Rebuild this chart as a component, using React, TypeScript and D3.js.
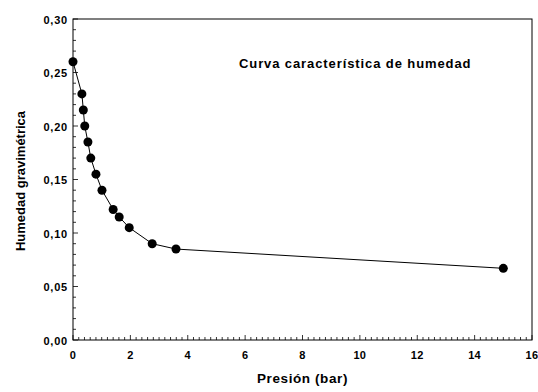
import { useEffect, useRef } from 'react';
import * as d3 from 'd3';

// Presión (bar) vs humedad gravimétrica
const presion = [0, 0.31, 0.36, 0.41, 0.52, 0.62, 0.8, 1.01, 1.4, 1.61, 1.96, 2.76, 3.59, 15];
const humedad = [0.26, 0.23, 0.215, 0.2, 0.185, 0.17, 0.155, 0.14, 0.122, 0.115, 0.105, 0.09, 0.085, 0.067];
const xTicks = [0, 2, 4, 6, 8, 10, 12, 14, 16];
const yTicks = [0, 0.05, 0.1, 0.15, 0.2, 0.25, 0.3];

const title = 'Curva característica de humedad';
const xLabel = 'Presión (bar)';
const yLabel = 'Humedad gravimétrica';

const W = 538;
const H = 392;

export default function App() {
  const ref = useRef<SVGSVGElement>(null);

  useEffect(() => {
    if (!ref.current) return;
    const svg = d3.select(ref.current);
    svg.selectAll('*').remove();

    const margin = { top: 19, right: 6, bottom: 52, left: 73 };
    const innerW = W - margin.left - margin.right;
    const innerH = H - margin.top - margin.bottom;
    const font = '"Liberation Sans", Arial, sans-serif';

    const g = svg.append('g').attr('transform', `translate(${margin.left},${margin.top})`);

    const x = d3.scaleLinear().domain([0, 16]).range([0, innerW]);
    const y = d3.scaleLinear().domain([0, 0.3]).range([innerH, 0]);

    // frame
    g.append('rect')
      .attr('width', innerW)
      .attr('height', innerH)
      .attr('fill', 'none')
      .attr('stroke', '#000')
      .attr('stroke-width', 1);

    // minor ticks (inside)
    const xMinor = d3.range(0, 16.001, 0.2);
    g.append('g')
      .selectAll('line')
      .data(xMinor)
      .join('line')
      .attr('x1', (d) => x(d))
      .attr('x2', (d) => x(d))
      .attr('y1', innerH)
      .attr('y2', (d) => innerH - (Math.abs(d / 2 - Math.round(d / 2)) < 1e-6 ? 5 : 3))
      .attr('stroke', '#000')
      .attr('stroke-width', 0.8);

    const yMinor = d3.range(0, 0.3001, 0.01);
    g.append('g')
      .selectAll('line')
      .data(yMinor)
      .join('line')
      .attr('x1', 0)
      .attr('x2', (d) => (Math.abs(d / 0.05 - Math.round(d / 0.05)) < 1e-6 ? 5 : 3))
      .attr('y1', (d) => y(d))
      .attr('y2', (d) => y(d))
      .attr('stroke', '#000')
      .attr('stroke-width', 0.8);

    // tick labels
    g.append('g')
      .selectAll('text')
      .data(xTicks)
      .join('text')
      .attr('x', (d) => x(d))
      .attr('y', innerH + 18.5)
      .attr('text-anchor', 'middle')
      .attr('font-family', font)
      .attr('font-weight', 'bold')
      .attr('font-size', 11)
      .attr('letter-spacing', 0.3)
      .text((d) => String(d));

    const fmt = d3.format('.2f');
    g.append('g')
      .selectAll('text')
      .data(yTicks)
      .join('text')
      .attr('x', -5)
      .attr('y', (d) => y(d) + 4.5)
      .attr('text-anchor', 'end')
      .attr('font-family', font)
      .attr('font-weight', 'bold')
      .attr('font-size', 11)
      .attr('letter-spacing', 0.8)
      .text((d) => fmt(d).replace('.', ','));

    // line
    const pts = presion.map((p, i) => ({ p, h: humedad[i] }));
    const line = d3
      .line<{ p: number; h: number }>()
      .x((d) => x(d.p))
      .y((d) => y(d.h));
    g.append('path')
      .datum(pts)
      .attr('fill', 'none')
      .attr('stroke', '#000')
      .attr('stroke-width', 1)
      .attr('d', line);

    g.append('g')
      .selectAll('circle')
      .data(pts)
      .join('circle')
      .attr('cx', (d) => x(d.p))
      .attr('cy', (d) => y(d.h))
      .attr('r', 4.5)
      .attr('fill', '#000');

    // titles
    svg.append('text')
      .attr('x', 239)
      .attr('y', 68)
      .attr('font-family', font)
      .attr('font-weight', 'bold')
      .attr('font-size', 13)
      .attr('letter-spacing', 0.9)
      .text(title);

    svg.append('text')
      .attr('x', margin.left + innerW / 2)
      .attr('y', 383)
      .attr('text-anchor', 'middle')
      .attr('font-family', font)
      .attr('font-weight', 'bold')
      .attr('font-size', 13.5)
      .attr('letter-spacing', 0.6)
      .text(xLabel);

    svg.append('text')
      .attr('transform', `translate(25,181) rotate(-90)`)
      .attr('text-anchor', 'middle')
      .attr('font-family', font)
      .attr('font-weight', 'bold')
      .attr('font-size', 13)
      .text(yLabel);
  }, []);

  return (
    <svg
      ref={ref}
      width={W}
      height={H}
      style={{ position: 'absolute', left: 0, top: 0, background: '#fff' }}
    />
  );
}
